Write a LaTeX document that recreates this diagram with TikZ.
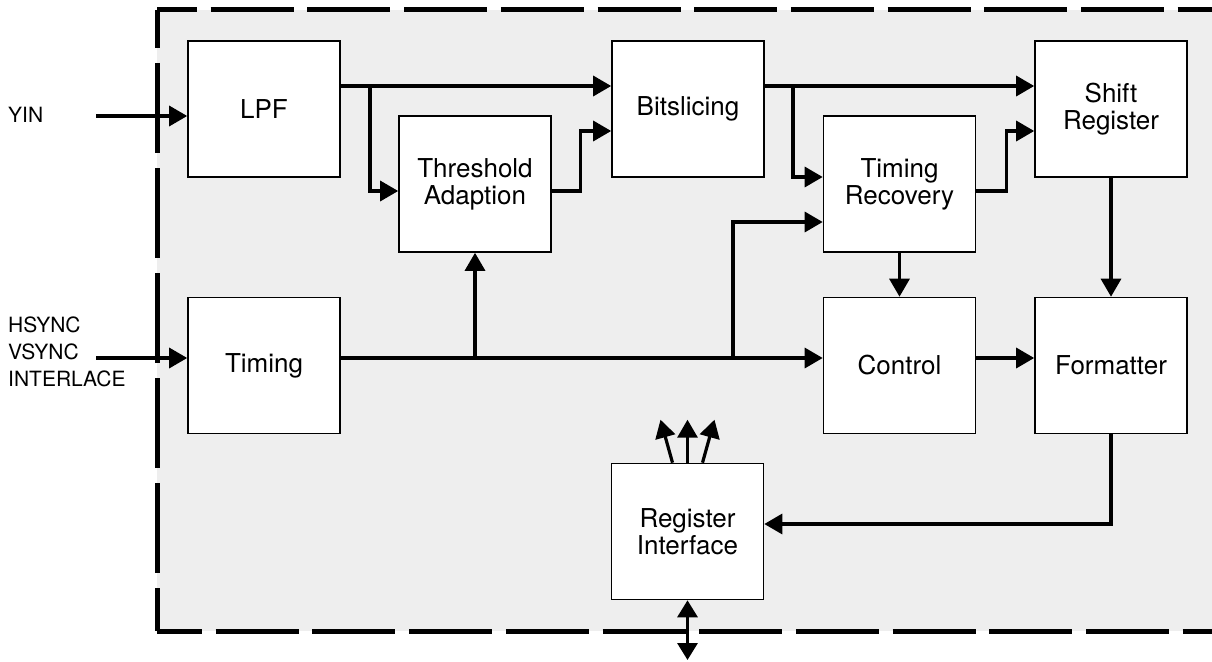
\documentclass[tikz,border=0pt]{standalone}
\usepackage{fontspec}
\setmainfont{TeX Gyre Heros}
\usetikzlibrary{arrows.meta}
\definecolor{panelgray}{HTML}{EEEEEE}
\tikzset{
  block/.style={draw, line width=1.6pt, fill=white, minimum width=152pt,
    minimum height=136pt, inner sep=0pt, align=center,
    font=\fontsize{26}{27}\selectfont},
  sig/.style={line width=3.2pt, -{Triangle[length=18pt,width=20pt]}},
  bothway/.style={line width=3.2pt,
    {Triangle[length=17pt,width=20pt]}-{Triangle[length=17pt,width=20pt]}},
  lbl/.style={anchor=west, inner sep=0pt, align=left,
    font=\fontsize{21}{27}\selectfont},
  frame/.style={line width=5pt}
}
\begin{document}
\begin{tikzpicture}[x=1pt,y=-1pt]
    \useasboundingbox (0,0) rectangle (1212,661);
    % chip outline
    \fill[panelgray] (157,10) rectangle (1240,631);
    \draw[frame, dash pattern=on 83pt off 13.7pt, dash phase=43pt] (157,10) -- (1240,10);
    \draw[frame, dash pattern=on 83pt off 13.7pt, dash phase=38pt] (157,631) -- (1240,631);
    \draw[frame, dash pattern=on 90pt off 15pt, dash phase=52pt] (157,10) -- (157,631);

    % blocks
    \node[block] (lpf)    at (264,109)   {LPF};
    \node[block] (timing) at (264,365.5) {Timing};
    \node[block] (thresh) at (475,184)   {Threshold\\Adaption};
    \node[block] (bits)   at (688,109)   {Bitslicing};
    \node[block] (trec)   at (899.5,184) {Timing\\Recovery};
    \node[block] (shift)  at (1111,109)  {Shift\\Register};
    \node[block] (ctrl)   at (899.5,365.5) {Control};
    \node[block] (fmt)    at (1111,365.5)  {Formatter};
    \node[block] (regif)  at (687.5,531.5) {Register\\Interface};

    % inputs
    \node[lbl] (yin)  at (8,115) {YIN};
    \node[lbl] (sync) at (8,352) {HSYNC\\VSYNC\\INTERLACE};
    \coordinate (yinend)  at (96,116);
    \coordinate (syncend) at (96,358);
    \draw[sig] (yinend) -- (yinend -| lpf.west);
    \draw[sig] (syncend) -- (syncend -| timing.west);

    % data path
    \coordinate (lpfbr)  at (370,86);
    \coordinate (bitsbr) at (793,86);
    \draw[sig] ([yshift=23pt]lpf.east) -- ([yshift=23pt]bits.west);
    \draw[sig] (lpfbr) |- ([yshift=-7pt]thresh.west);
    \draw[sig] ([yshift=-7pt]thresh.east) -- ++(29,0) |- ([yshift=-22pt]bits.west);
    \draw[sig] ([yshift=23pt]bits.east) -- ([yshift=23pt]shift.west);
    \draw[sig] (bitsbr) |- ([yshift=7pt]trec.west);
    \draw[sig] ([yshift=-7pt]trec.east) -- ++(30,0) |- ([yshift=-22pt]shift.west);

    % timing path
    \coordinate (tbr1) at (475,358);
    \coordinate (tbr2) at (733,358);
    \draw[sig] ([yshift=7.5pt]timing.east) -- ([yshift=7.5pt]ctrl.west);
    \draw[sig] (tbr1) -- (thresh.south);
    \draw[sig] (tbr2) |- ([yshift=-38pt]trec.west);
    \draw[sig] (trec.south) -- (ctrl.north);
    \draw[sig] (shift.south) -- (fmt.north);
    \draw[sig] ([yshift=7.5pt]ctrl.east) -- ([yshift=7.5pt]fmt.west);
    \draw[sig] (fmt.south) |- ([yshift=7.5pt]regif.east);

    % register interface
    \foreach \s in {-1,0,1}
        \draw[sig] ([xshift=\s*15pt]regif.north) -- ++(\s*12,-43);
    \coordinate (bus) at (687.5,660);
    \draw[bothway] (regif.south) -- (bus);
\end{tikzpicture}
\end{document}
